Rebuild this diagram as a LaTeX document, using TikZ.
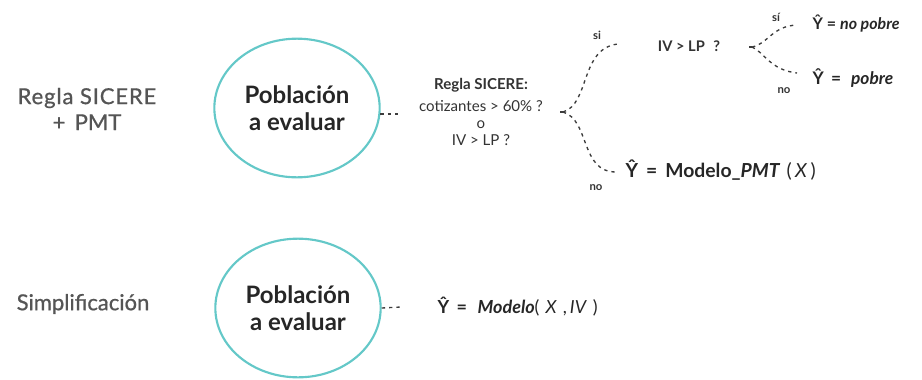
\documentclass[tikz,border=0pt]{standalone}
\usepackage{fontspec}
\setmainfont{Lato}
\usetikzlibrary{shapes.geometric}
\definecolor{turquesa}{RGB}{100,200,200}
\definecolor{grisleyenda}{RGB}{85,85,85}
\definecolor{grisrama}{RGB}{60,60,60}

\begin{document}
\begin{tikzpicture}[x=0.75pt,y=-0.75pt,
     pob/.style={ellipse,draw=turquesa,line width=1.6pt,minimum width=124pt,minimum height=104pt,inner sep=0pt,
       align=center,font=\fontsize{18}{20}\selectfont\bfseries,text=black!85},
     leyenda/.style={align=center,text=grisleyenda,font=\fontsize{16.5}{19.5}\selectfont\addfontfeature{FakeBold=0.8}},
     rama/.style={draw=grisrama,line width=1pt,dash pattern=on 2.5pt off 3pt},
     pregunta/.style={align=center,text=black!80,font=\fontsize{11.3}{12.5}\selectfont},
     etiq/.style={text=black!80,font=\fontsize{8.5}{10}\selectfont\bfseries},
     resultado/.style={anchor=west,text=black!85,font=\fontsize{12}{14}\selectfont}
   ]
   \path[use as bounding box] (0,0) rectangle (922,379);
   % Regla SICERE + PMT.
   \node[leyenda] (ley1) at (87,109) {\addfontfeature{LetterSpace=4}Regla SICERE\\+\, PMT};
   \node[pob] (pobA) at (297,108) {Población\\a evaluar};
   \node[pregunta] (regla) at (481,112) {\textbf{Regla SICERE:}\\[4pt]cotizantes > 60\% ?\\[0pt]o\\[0pt]IV > LP ?};
   \coordinate (r1) at (563,112);
   \coordinate (fSi) at (618,44);
   \coordinate (fNo) at (616,172);
   \draw[rama] (pobA.-4) -- ++(20,0);
   \draw[rama] (r1) -- ++(-6,0);
   \draw[rama] (r1) .. controls (590,104) and (580,48) .. (fSi);
   \draw[rama] (r1) .. controls (590,120) and (580,172) .. (fNo);
   \node[etiq] (si1) at (597,35) {si};
   \node[etiq] (no1) at (596,188) {no};
   \node[pregunta,font=\fontsize{11}{13}\selectfont\bfseries] (q2) at (689,46) {IV > LP\,\, ?};
   \coordinate (r2) at (752,47);
   \coordinate (fSi2) at (797,25);
   \coordinate (fNo2) at (797,73);
   \draw[rama] (r2) -- ++(-6,0);
   \draw[rama] (r2) .. controls (768,44) and (772,26) .. (fSi2);
   \draw[rama] (r2) .. controls (764,52) and (770,70) .. (fNo2);
   \node[etiq] (si2) at (776,17) {sí};
   \node[etiq] (no2) at (784,91) {no};
   \node[resultado] (noPobre) at (808,24) {\textbf{Ŷ = \textit{no pobre}}};
   \node[resultado,font=\fontsize{13}{15}\selectfont] (pobre) at (808,78) {\textbf{Ŷ \,=\,\, \textit{pobre}}};
   \node[resultado,font=\fontsize{14.5}{17}\selectfont] (pmt) at (621,170) {\textbf{Ŷ \,=\, Modelo\_\textit{PMT}}\,\,(\,\textit{X}\,)};
   % Simplificacion.
   \node[leyenda] (ley2) at (83,304) {Simplificación};
   \node[pob] (pobB) at (298,308) {Población\\a evaluar};
   \coordinate (fB) at (401,307);
   \draw[rama] (pobB.east) -- (fB);
   \node[resultado,font=\fontsize{13.5}{16}\selectfont] (modelo) at (433,307) {\textbf{Ŷ \,=\,\, \textit{Modelo}}(\,\,\textit{X}\,\,,\,\textit{IV}\,\,)};
 \end{tikzpicture}
\end{document}
